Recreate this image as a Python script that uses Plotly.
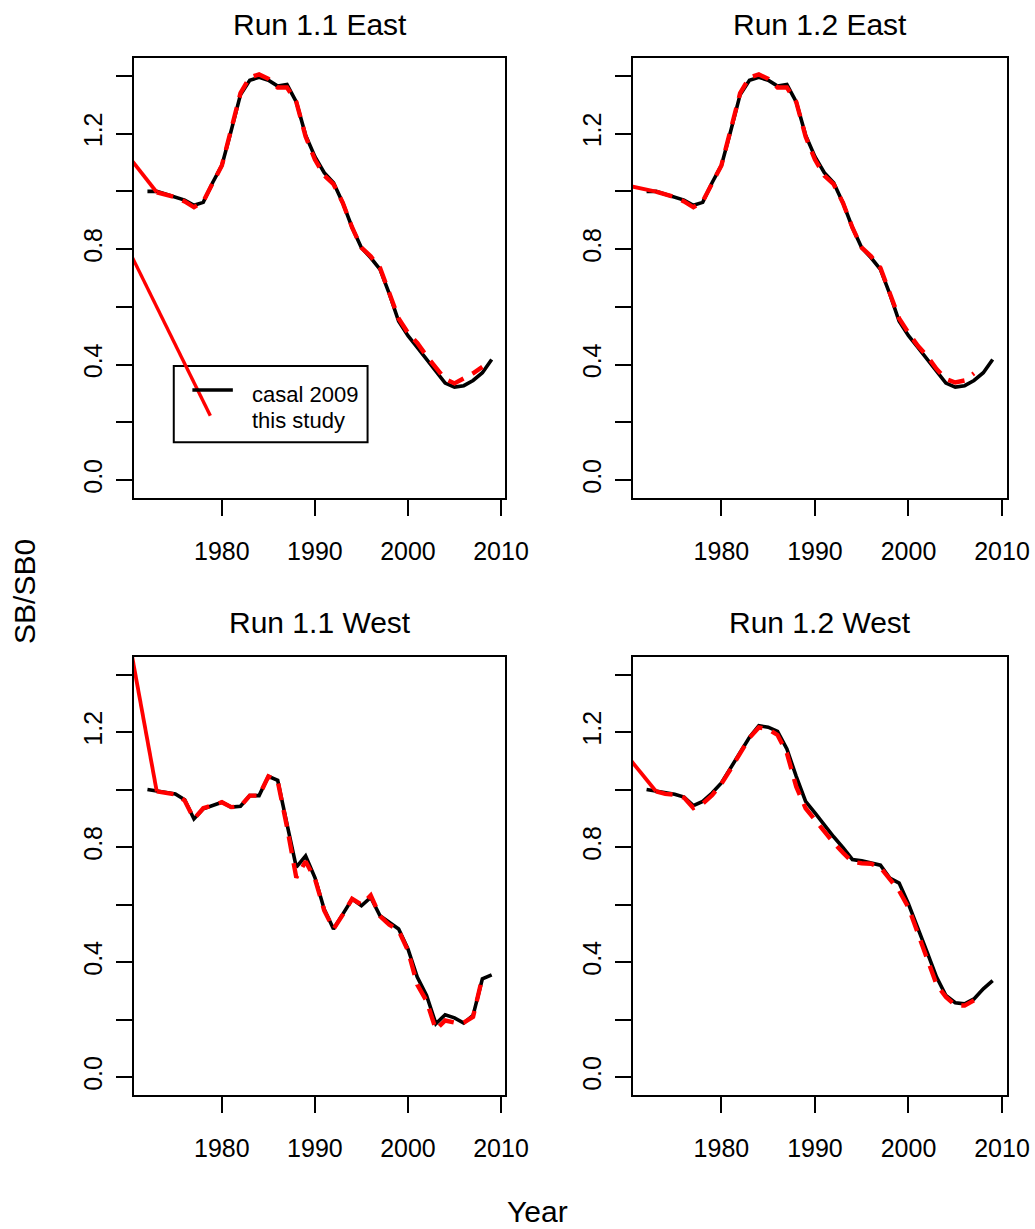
import plotly.graph_objects as go

# ---------------- data ----------------
years_casal = list(range(1972, 2010))

east_casal = [1.0, 1.0, 0.99, 0.98, 0.97, 0.952, 0.962, 1.03, 1.09, 1.21,
              1.335, 1.385, 1.395, 1.385, 1.365, 1.37, 1.31, 1.195, 1.12, 1.065,
              1.03, 0.96, 0.875, 0.805, 0.77, 0.73, 0.645, 0.55, 0.5, 0.46,
              0.418, 0.378, 0.336, 0.322, 0.327, 0.345, 0.372, 0.418]

west11_casal = [1.0, 0.994, 0.99, 0.985, 0.965, 0.898, 0.933, 0.944, 0.956, 0.939,
                0.942, 0.979, 0.979, 1.046, 1.032, 0.88, 0.73, 0.769, 0.694, 0.584,
                0.515, 0.567, 0.619, 0.596, 0.625, 0.561, 0.538, 0.515, 0.446, 0.348,
                0.284, 0.186, 0.217, 0.206, 0.188, 0.215, 0.342, 0.356]

west12_casal = [1.0, 0.994, 0.988, 0.984, 0.974, 0.944, 0.959, 0.988, 1.023, 1.075,
                1.129, 1.182, 1.222, 1.217, 1.202, 1.141, 1.046, 0.959, 0.919, 0.875,
                0.836, 0.798, 0.757, 0.752, 0.746, 0.737, 0.692, 0.675, 0.602, 0.521,
                0.434, 0.348, 0.284, 0.259, 0.255, 0.272, 0.307, 0.336]

years_study_08 = list(range(1973, 2009))
years_study_07 = list(range(1973, 2008))

east11_study = [0.997, 0.99, 0.98, 0.965, 0.945, 0.965, 1.025, 1.09, 1.215, 1.34,
                1.395, 1.405, 1.39, 1.36, 1.36, 1.31, 1.19, 1.11, 1.055, 1.025,
                0.96, 0.875, 0.805, 0.775, 0.735, 0.645, 0.56, 0.51, 0.475, 0.43,
                0.39, 0.35, 0.335, 0.352, 0.37, 0.392]

east12_study = [0.999, 0.99, 0.98, 0.965, 0.945, 0.965, 1.025, 1.09, 1.215, 1.34,
                1.395, 1.405, 1.39, 1.36, 1.36, 1.31, 1.19, 1.11, 1.055, 1.025,
                0.96, 0.875, 0.805, 0.775, 0.735, 0.645, 0.56, 0.51, 0.465, 0.43,
                0.385, 0.35, 0.338, 0.345, 0.37]

west11_study = [0.994, 0.99, 0.983, 0.962, 0.898, 0.935, 0.945, 0.956, 0.939, 0.942,
                0.979, 0.979, 1.046, 1.03, 0.87, 0.694, 0.75, 0.69, 0.58, 0.515,
                0.565, 0.62, 0.6, 0.632, 0.56, 0.53, 0.51, 0.44, 0.322, 0.265,
                0.165, 0.197, 0.19, 0.19, 0.21, 0.348]

west12_study = [0.994, 0.985, 0.982, 0.972, 0.936, 0.951, 0.98, 1.02, 1.072, 1.125,
                1.18, 1.216, 1.21, 1.19, 1.127, 1.01, 0.935, 0.895, 0.852, 0.815,
                0.78, 0.748, 0.744, 0.742, 0.729, 0.686, 0.648, 0.59, 0.5, 0.415,
                0.322, 0.279, 0.25, 0.249, 0.267]

# solid red lead-in segments (start outside the plotted range)
lead_years = [1970, 1973]
east11_lead = [1.12, 0.997]
east12_lead = [1.02, 0.999]
west11_lead = [1.525, 0.994]
west12_lead = [1.114, 0.994]

# stray solid red segment in the first panel
stray_years = [1970, 1978.76]
stray_vals = [0.796, 0.223]

titles = ["Run 1.1 East", "Run 1.2 East", "Run 1.1 West", "Run 1.2 West"]
x_ticks = [1980, 1990, 2000, 2010]
y_ticks = [0.0, 0.2, 0.4, 0.6, 0.8, 1.0, 1.2, 1.4]
y_tick_text = ["0.0", "", "0.4", "", "0.8", "", "1.2", ""]

# ---------------- figure ----------------
W, H = 1035, 1229
WE = 1014.5   # effective horizontal extent observed in the rendered page
FONT = "Liberation Sans, Arial, sans-serif"
fig = go.Figure()

panels = [
    dict(xa="x", ya="y", casal=east_casal, study_x=years_study_08, study=east11_study, lead=east11_lead),
    dict(xa="x2", ya="y2", casal=east_casal, study_x=years_study_07, study=east12_study, lead=east12_lead),
    dict(xa="x3", ya="y3", casal=west11_casal, study_x=years_study_08, study=west11_study, lead=west11_lead),
    dict(xa="x4", ya="y4", casal=west12_casal, study_x=years_study_07, study=west12_study, lead=west12_lead),
]

RED = "#FF0000"
for i, p in enumerate(panels):
    fig.add_trace(go.Scatter(x=years_casal, y=p["casal"], mode="lines", xaxis=p["xa"], yaxis=p["ya"],
                             line=dict(color="black", width=3.6), showlegend=False, name="casal 2009"))
    fig.add_trace(go.Scatter(x=lead_years, y=p["lead"], mode="lines", xaxis=p["xa"], yaxis=p["ya"],
                             line=dict(color=RED, width=3.8), showlegend=False, name="this study"))
    fig.add_trace(go.Scatter(x=p["study_x"], y=p["study"], mode="lines", xaxis=p["xa"], yaxis=p["ya"],
                             line=dict(color=RED, width=4.4, dash="17px,10px"), showlegend=False,
                             name="this study"))
    if i == 0:
        fig.add_trace(go.Scatter(x=stray_years, y=stray_vals, mode="lines", xaxis="x", yaxis="y",
                                 line=dict(color=RED, width=3.4), showlegend=False, name="this study"))

# domains (paper coords)
xdom = [[134 / WE, 506.7 / WE], [634.3 / WE, 1009 / WE]]
ydom = [[1 - 498 / H, 1 - 58 / H], [1 - 1095 / H, 1 - 656.7 / H]]

axis_common = dict(showline=True, mirror=True, linecolor="black", linewidth=2,
                   showgrid=False, zeroline=False, ticks="outside", ticklen=16, tickwidth=2,
                   tickcolor="black", tickfont=dict(family=FONT, size=25, color="black"))

layout = dict(width=W, height=H, autosize=False, margin=dict(l=0, r=0, t=0, b=0),
              paper_bgcolor="white", plot_bgcolor="white", showlegend=False,
              font=dict(family=FONT, color="black"))

for i in range(4):
    r, c = divmod(i, 2)
    sx = "" if i == 0 else str(i + 1)
    layout["xaxis" + sx] = dict(axis_common, domain=xdom[c], range=[1970.52, 2010.48],
                                tickvals=x_ticks, anchor="y" + sx, ticklabelstandoff=14)
    layout["yaxis" + sx] = dict(axis_common, domain=ydom[r], range=[-0.062, 1.462],
                                tickvals=y_ticks, ticktext=y_tick_text, tickangle=-90,
                                anchor="x" + sx, ticklabelstandoff=4)

annotations = []
for i, t in enumerate(titles):
    r, c = divmod(i, 2)
    cx = (xdom[c][0] + xdom[c][1]) / 2
    cy = 1 - (25 if r == 0 else 622) / H
    annotations.append(dict(text=t, x=cx, y=cy, xref="paper", yref="paper", showarrow=False,
                            xanchor="center", yanchor="middle",
                            font=dict(family=FONT, size=30, color="black")))

annotations.append(dict(text="SB/SB0", x=24 / WE, y=1 - 591 / H, xref="paper", yref="paper",
                        showarrow=False, textangle=-90, xanchor="center", yanchor="middle",
                        font=dict(family=FONT, size=30, color="black")))
annotations.append(dict(text="Year", x=539 / WE, y=1 - 1211 / H, xref="paper", yref="paper",
                        showarrow=False, xanchor="center", yanchor="middle",
                        font=dict(family=FONT, size=30, color="black")))

# legend (drawn in first panel)
annotations.append(dict(text="casal 2009", x=1983.0, y=0.296, xref="x", yref="y", showarrow=False,
                        xanchor="left", yanchor="middle", font=dict(family=FONT, size=22, color="black")))
annotations.append(dict(text="this study", x=1983.0, y=0.207, xref="x", yref="y", showarrow=False,
                        xanchor="left", yanchor="middle", font=dict(family=FONT, size=22, color="black")))

shapes = [
    dict(type="rect", xref="x", yref="y", x0=1974.83, x1=1995.66, y0=0.131, y1=0.395,
         line=dict(color="black", width=2), fillcolor="rgba(0,0,0,0)", layer="below"),
    dict(type="line", xref="x", yref="y", x0=1976.83, x1=1981.18, y0=0.312, y1=0.312,
         line=dict(color="black", width=3.6)),
]

layout["annotations"] = annotations
layout["shapes"] = shapes
fig.update_layout(**layout)

fig.write_html("out.html", config={"responsive": False})
